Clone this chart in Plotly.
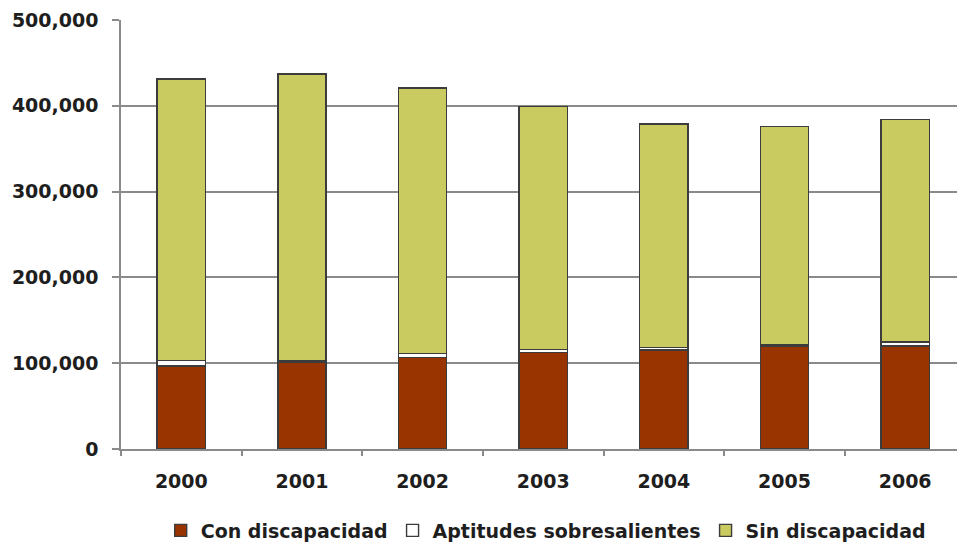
import plotly.graph_objects as go

# Alumnos por condición, 2000-2006
years = ["2000", "2001", "2002", "2003", "2004", "2005", "2006"]
con_discapacidad = [96900, 101500, 106600, 112400, 115500, 119400, 120000]
aptitudes_sobresalientes = [6100, 1500, 5000, 3900, 3100, 1600, 4700]
sin_discapacidad = [328400, 334000, 309000, 282700, 260100, 255000, 259000]

y_ticks = [0, 100000, 200000, 300000, 400000, 500000]
y_tick_text = ["0", "100,000", "200,000", "300,000", "400,000", "500,000"]

FONT = "DejaVu Sans"
TEXT = "#1e1e1e"
EDGE = "#3c3c3c"
GRID = "#8a8a8a"

fig = go.Figure()
fig.add_trace(go.Bar(name="Con discapacidad", x=years, y=con_discapacidad,
                     marker=dict(color="#993300", line=dict(color=EDGE, width=1.4))))
fig.add_trace(go.Bar(name="Aptitudes sobresalientes", x=years, y=aptitudes_sobresalientes,
                     marker=dict(color="#ffffff", line=dict(color=EDGE, width=1.4))))
fig.add_trace(go.Bar(name="Sin discapacidad", x=years, y=sin_discapacidad,
                     marker=dict(color="#c9cb60", line=dict(color=EDGE, width=1.4))))

fig.update_layout(
    barmode="stack",
    bargap=0.6,
    width=957,
    height=546,
    margin=dict(l=121, r=0, t=20, b=97, autoexpand=False),
    paper_bgcolor="white",
    plot_bgcolor="white",
    font=dict(family=FONT, size=19, color=TEXT),
    showlegend=True,
    legend=dict(
        orientation="h",
        x=0.508, xanchor="center",
        y=-0.19, yanchor="middle",
        font=dict(family=FONT, size=19, color=TEXT, weight="bold"),
        traceorder="normal",
        itemwidth=30,
    ),
    xaxis=dict(
        type="category",
        range=[-0.5, 6.43],
        showline=True, linecolor=GRID, linewidth=1.5,
        ticks="outside", tickson="boundaries", ticklen=5, tickcolor=GRID, tickwidth=1.5,
        tickfont=dict(family=FONT, size=19, color=TEXT, weight="bold"),
        ticklabelstandoff=14,
        showgrid=False,
    ),
    yaxis=dict(
        range=[0, 500000],
        tickvals=y_ticks, ticktext=y_tick_text,
        showline=True, linecolor=GRID, linewidth=1.5,
        ticks="outside", ticklen=7, tickcolor=GRID, tickwidth=1.5,
        tickfont=dict(family=FONT, size=19, color=TEXT, weight="bold"),
        ticklabelstandoff=10,
        showgrid=True, gridcolor=GRID, gridwidth=1.5,
        zeroline=False,
    ),
)

fig.write_html("out.html")
